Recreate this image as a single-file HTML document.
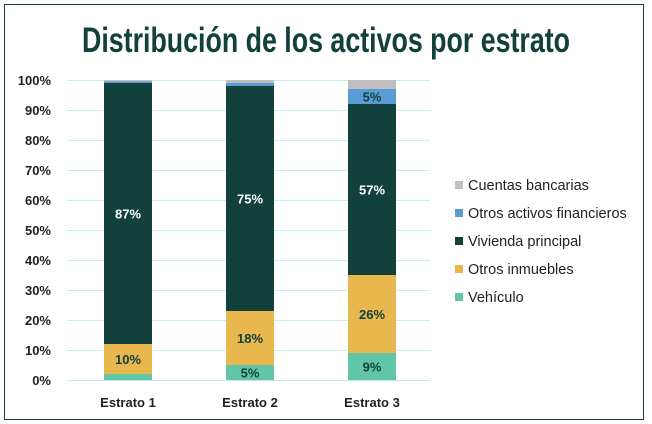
<!DOCTYPE html>
<html><head><meta charset="utf-8"><style>
body{margin:0;background:#fff}
svg{display:block;font-family:"Liberation Sans",sans-serif}
</style></head><body>
<svg width="652" height="424">
<rect x="4.5" y="4.5" width="639" height="415" fill="#fff" stroke="#12403a" stroke-width="1"/>
<text x="326" y="52" text-anchor="middle" font-size="35" font-weight="bold" fill="#12403a" textLength="488" lengthAdjust="spacingAndGlyphs">Distribución de los activos por estrato</text>
<g id="grid"></g><g id="bars"></g><g id="axis"></g><g id="legend"></g>
</svg>
<script>
const categories=["Estrato 1","Estrato 2","Estrato 3"];
const seriesNames=["Vehículo","Otros inmuebles","Vivienda principal","Otros activos financieros","Cuentas bancarias"];
const vehiculo=[2,5,9];
const otrosInmuebles=[10,18,26];
const vivienda=[87,75,57];
const otrosFinancieros=[0.5,1,5];
const cuentas=[0.5,1,3];
const series=[vehiculo,otrosInmuebles,vivienda,otrosFinancieros,cuentas];
const labels=[["","5%","9%"],["10%","18%","26%"],["87%","75%","57%"],["","","5%"],["","",""]];
const ticks=[0,10,20,30,40,50,60,70,80,90,100];
const colors=["#62c6a6","#e8b84e","#12403a","#5b9bd5","#bfbfbf"];
const labelColors=["#12403a","#12403a","#ffffff","#12403a","#12403a"];
const NS="http://www.w3.org/2000/svg";
const y=v=>380-v*3;
const xc=i=>128+i*122;
const bw=48;
function mk(tag,attrs,parent){const e=document.createElementNS(NS,tag);for(const k in attrs)e.setAttribute(k,attrs[k]);parent.appendChild(e);return e;}
const grid=document.getElementById('grid'),bars=document.getElementById('bars'),axis=document.getElementById('axis'),legend=document.getElementById('legend');
ticks.forEach(t=>{
 const l=mk('line',{x1:67,x2:430,y1:y(t)+0.5,y2:y(t)+0.5,stroke:t===0?'#bfe9e6':'#c8f0ee','stroke-width':1},grid);
 
 
 const tx=mk('text',{x:51,y:y(t)+5,'text-anchor':'end','font-size':13,'font-weight':'bold',fill:'#222'},axis);
 tx.textContent=t+'%';
 
 
});
categories.forEach((c,i)=>{
 let acc=0;
 series.forEach((s,j)=>{
  const v=s[i];
  const r=mk('rect',{x:xc(i)-bw/2,y:y(acc+v),width:bw,height:v*3,fill:colors[j]},bars);
  
  
  if(labels[j][i]){
   const t=mk('text',{x:xc(i),y:y(acc+v/2)+5,'text-anchor':'middle','font-size':13,'font-weight':'bold',fill:labelColors[j]},bars);
   t.textContent=labels[j][i];
   
   
  }
  acc+=v;
 });
 const t=mk('text',{x:xc(i),y:407,'text-anchor':'middle','font-size':13,'font-weight':'bold',fill:'#222'},axis);
 t.textContent=c;
 
 
});
for(let k=4;k>=0;k--){
 const row=4-k, yy=185+row*28;
 const r=mk('rect',{x:455,y:yy-4,width:8,height:8,fill:colors[k]},legend);
 
 
 const t=mk('text',{x:468,y:yy+5,'font-size':14.5,fill:'#222'},legend);
 t.textContent=seriesNames[k];
 
 
}
</script>
</body></html>
